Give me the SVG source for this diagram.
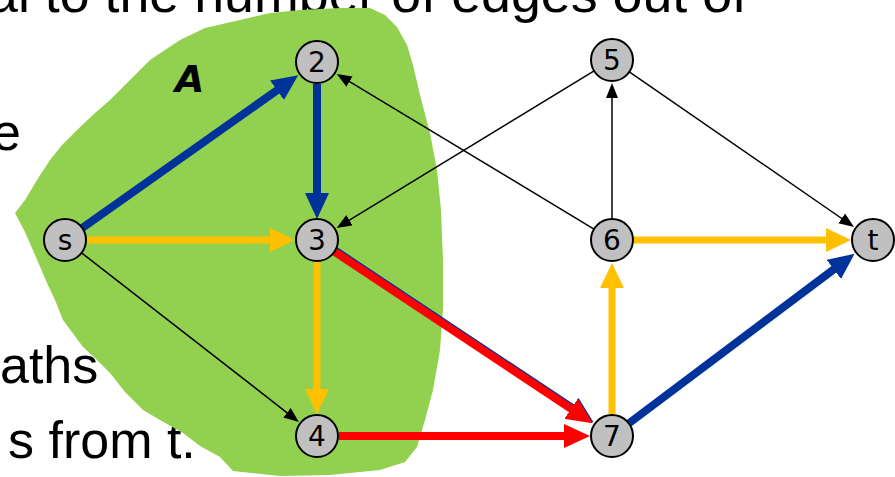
<svg xmlns="http://www.w3.org/2000/svg" width="895" height="477" viewBox="0 0 895 477">
<style>
.bg{font-family:"Liberation Sans",Arial,sans-serif;font-size:52px;fill:#000}
.node circle{fill:#C0C0C0;stroke:#000;stroke-width:2}
.node text{font-family:"DejaVu Sans",sans-serif;font-size:28px;fill:#000;text-anchor:middle}
.thin{stroke:#000;stroke-width:1.5;fill:none}
.blue{stroke:#003399;stroke-width:8;fill:none}
.yel{stroke:#FFC000;stroke-width:7;fill:none}
.red{stroke:#FF0000;stroke-width:8;fill:none}
</style>
<defs>
<marker id="hThin" markerUnits="userSpaceOnUse" viewBox="0 0 15 12" markerWidth="15" markerHeight="12" refX="1" refY="6" orient="auto"><path d="M0,0 L15,6 L0,12 Z" fill="#000"/></marker>
<marker id="hBlue" markerUnits="userSpaceOnUse" viewBox="0 0 26 24" markerWidth="26" markerHeight="24" refX="1" refY="12" orient="auto"><path d="M0,0 L26,12 L0,24 Z" fill="#003399"/></marker>
<marker id="hYel" markerUnits="userSpaceOnUse" viewBox="0 0 25 24" markerWidth="25" markerHeight="24" refX="1" refY="12" orient="auto"><path d="M0,0 L25,12 L0,24 Z" fill="#FFC000"/></marker>
<marker id="hRed" markerUnits="userSpaceOnUse" viewBox="0 0 26 24" markerWidth="26" markerHeight="24" refX="1" refY="12" orient="auto"><path d="M0,0 L26,12 L0,24 Z" fill="#FF0000"/></marker>
</defs>
<rect width="895" height="477" fill="#fff"/>
<g id="slide-text">
<text class="bg" x="-12" y="12" textLength="759" lengthAdjust="spacingAndGlyphs">al to the number of edges out of</text>
<text class="bg" x="-8" y="150">e</text>
<text class="bg" x="0" y="383">aths</text>
<text class="bg" x="8" y="458">s from t.</text>
</g>
<g id="region-A">
<path d="M150,60 L180,40 L205,28 L240,20 L270,13 L300,10 L340,8 L370,8 L385,15 L397,27 L407,45 L413,65 L420,95 L430,133 L437,170 L441,210 L443,260 L443,310 L440,350 L433,390 L425,420 L417,447 L405,462 L380,470 L330,475 L280,476 L233,471 L220,457 L200,446 L183,433 L160,420 L143,410 L125,392 L110,373 L95,358 L83,347 L63,320 L55,300 L47,283 L35,255 L25,232 L15,213 L25,200 L37,180 L50,160 L62,145 L77,130 L95,113 L110,100 L130,80 Z" fill="#92D050"/>
<text x="175" y="92" font-family="DejaVu Sans,sans-serif" font-size="38" font-style="italic" font-weight="bold" fill="#000">A</text>
</g>
<g id="connectors">
<line class="thin" x1="81.6" y1="252.9" x2="287.8" y2="413.3" marker-end="url(#hThin)"/>
<line class="thin" x1="594" y1="229.1" x2="348.7" y2="81.2" marker-end="url(#hThin)"/>
<line class="thin" x1="594.1" y1="70.9" x2="348.6" y2="220.7" marker-end="url(#hThin)"/>
<line class="thin" x1="612" y1="218" x2="612" y2="97" marker-end="url(#hThin)"/>
<line class="thin" x1="629.3" y1="71.9" x2="842.5" y2="219" marker-end="url(#hThin)"/>
<line class="blue" x1="82.2" y1="227.9" x2="277.8" y2="89.7" marker-end="url(#hBlue)"/>
<line class="blue" x1="317" y1="84" x2="317" y2="194" marker-end="url(#hBlue)"/>
<line class="yel" x1="87" y1="240" x2="271" y2="240" marker-end="url(#hYel)"/>
<line class="yel" x1="317" y1="262" x2="317" y2="390" marker-end="url(#hYel)"/>
<line class="blue" x1="335.2" y1="250.6" x2="572.7" y2="408.4" marker-end="url(#hBlue)"/>
<line class="red" x1="334.5" y1="251.6" x2="572" y2="409.4" marker-end="url(#hRed)"/>
<line class="red" x1="339" y1="436" x2="565" y2="436" marker-end="url(#hRed)"/>
<line class="yel" x1="612" y1="414" x2="612" y2="287" marker-end="url(#hYel)"/>
<line class="yel" x1="634" y1="240" x2="827" y2="240" marker-end="url(#hYel)"/>
<line class="blue" x1="628.8" y1="423.4" x2="834.6" y2="268.8" marker-end="url(#hBlue)"/>
</g>
<g id="node-s" class="node"><circle cx="65" cy="240" r="21"/><text x="65" y="250">s</text></g>
<g id="node-2" class="node"><circle cx="317" cy="62" r="21"/><text x="317" y="72">2</text></g>
<g id="node-3" class="node"><circle cx="317" cy="240" r="21"/><text x="317" y="250">3</text></g>
<g id="node-4" class="node"><circle cx="317" cy="436" r="21"/><text x="317" y="446">4</text></g>
<g id="node-5" class="node"><circle cx="612" cy="60" r="21"/><text x="612" y="70">5</text></g>
<g id="node-6" class="node"><circle cx="612" cy="240" r="21"/><text x="612" y="250">6</text></g>
<g id="node-7" class="node"><circle cx="612" cy="436" r="21"/><text x="612" y="446">7</text></g>
<g id="node-t" class="node"><circle cx="873" cy="240" r="21"/><text x="873" y="250">t</text></g>
</svg>
